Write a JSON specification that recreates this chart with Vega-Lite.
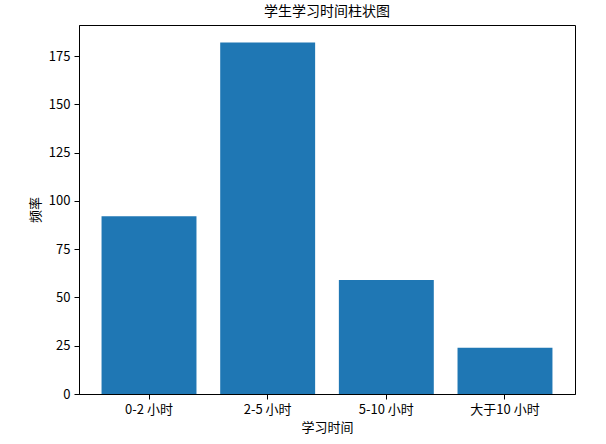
{
  "$schema": "https://vega.github.io/schema/vega-lite/v6.json",
  "width": 496,
  "height": 369,
  "autosize": {"type": "none"},
  "padding": {"left": 79, "top": 25, "right": 31, "bottom": 50},
  "background": "white",
  "title": {
    "text": "学生学习时间柱状图",
    "font": "Noto Sans CJK SC",
    "fontSize": 14,
    "fontWeight": "normal",
    "color": "black",
    "offset": 6
  },
  "config": {
    "view": {"stroke": "black", "strokeWidth": 1},
    "axis": {
      "labelFont": "Noto Sans CJK SC",
      "labelFontSize": 13,
      "labelColor": "black",
      "titleFont": "Noto Sans CJK SC",
      "titleFontSize": 13,
      "titleFontWeight": "normal",
      "titleColor": "black",
      "domainColor": "black",
      "tickColor": "black",
      "tickSize": 5,
      "grid": false
    }
  },
  "data": {
    "values": [
      {"category": "0-2 小时", "count": 92},
      {"category": "2-5 小时", "count": 182},
      {"category": "5-10 小时", "count": 59},
      {"category": "大于10 小时", "count": 24}
    ]
  },
  "mark": {"type": "bar", "color": "#1f77b4"},
  "encoding": {
    "x": {
      "field": "category",
      "type": "nominal",
      "sort": null,
      "scale": {"paddingInner": 0.2, "paddingOuter": 0.19},
      "axis": {"title": "学习时间", "labelAngle": 0, "labelPadding": 4, "titlePadding": 5}
    },
    "y": {
      "field": "count",
      "type": "quantitative",
      "scale": {"domain": [0, 191.1], "nice": false},
      "axis": {"title": "频率", "values": [0, 25, 50, 75, 100, 125, 150, 175], "titlePadding": 6, "labelPadding": 4}
    }
  }
}
